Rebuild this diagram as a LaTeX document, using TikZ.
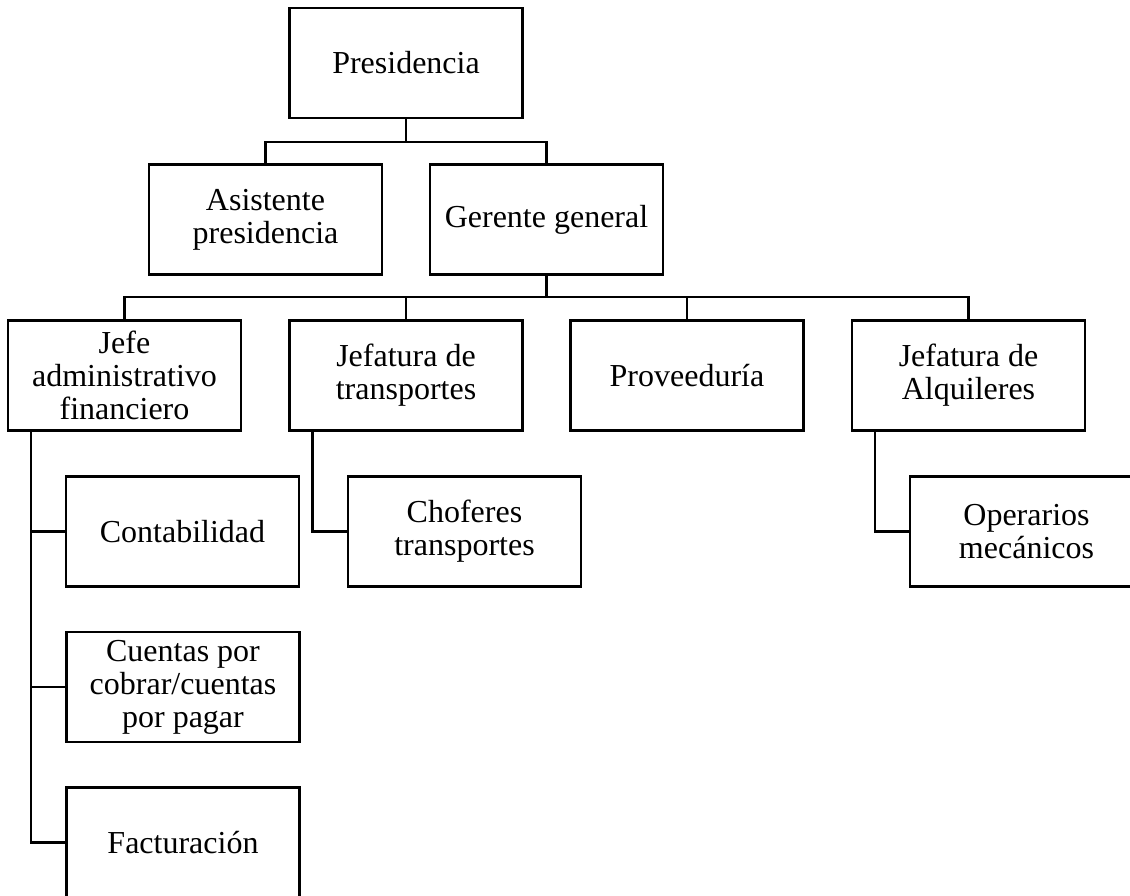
\documentclass[tikz,border=0pt]{standalone}
\usepackage{fontspec}
\setmainfont{Liberation Serif}
\begin{document}
\begin{tikzpicture}[x=1pt,y=-1pt,
  unit/.style={draw, line width=2.5pt, minimum width=233pt, minimum height=110pt,
    inner sep=0pt, align=center, font=\fontsize{32}{33}\selectfont},
  link/.style={line width=2.5pt}]
\useasboundingbox (0,0) rectangle (1130,895);

% top levels
\node[unit] (pres) at (406,63) {Presidencia};
\node[unit] (asis) at (265.5,219.5) {Asistente\\presidencia};
\node[unit] (ger)  at (546.5,219.5) {Gerente general};

% departments
\node[unit] (jefe) at (124.5,375.5) {Jefe\\administrativo\\financiero};
\node[unit] (jtra) at (406,375.5) {Jefatura de\\transportes};
\node[unit] (prov) at (687,375.5) {Proveeduría};
\node[unit] (jalq) at (968.5,375.5) {Jefatura de\\Alquileres};

% sections
\node[unit] (cont) at (182.5,531.5) {Contabilidad};
\node[unit] (chof) at (464.5,531.5) {Choferes\\transportes};
\node[unit] (oper) at (1026.5,531.5) {Operarios\\mecánicos};
\node[unit] (cxc)  at (183,687) {Cuentas por\\cobrar/cuentas\\por pagar};
\node[unit] (fact) at (183,842.5) {Facturación};

% presidency bus
\coordinate (busA) at (406,142);
\draw[link] (pres.south) -- (busA);
\draw[link] (asis.north) |- (busA) -| (ger.north);

% general manager bus
\coordinate (busB) at (546.5,297);
\draw[link] (ger.south) -- (busB);
\draw[link] (jefe.north) |- (busB) -| (jalq.north);
\draw[link] (jtra.north) -- (jtra.north |- busB);
\draw[link] (prov.north) -- (prov.north |- busB);

% side spines
\coordinate (spJ) at ([xshift=24pt]jefe.south west);
\coordinate (spT) at ([xshift=24pt]jtra.south west);
\coordinate (spA) at ([xshift=24pt]jalq.south west);
\draw[link] (spJ) |- (fact.west);
\draw[link] (cont.west) -- (cont.west -| spJ);
\draw[link] (cxc.west) -- (cxc.west -| spJ);
\draw[link] (spT) |- (chof.west);
\draw[link] (spA) |- (oper.west);
\end{tikzpicture}
\end{document}
